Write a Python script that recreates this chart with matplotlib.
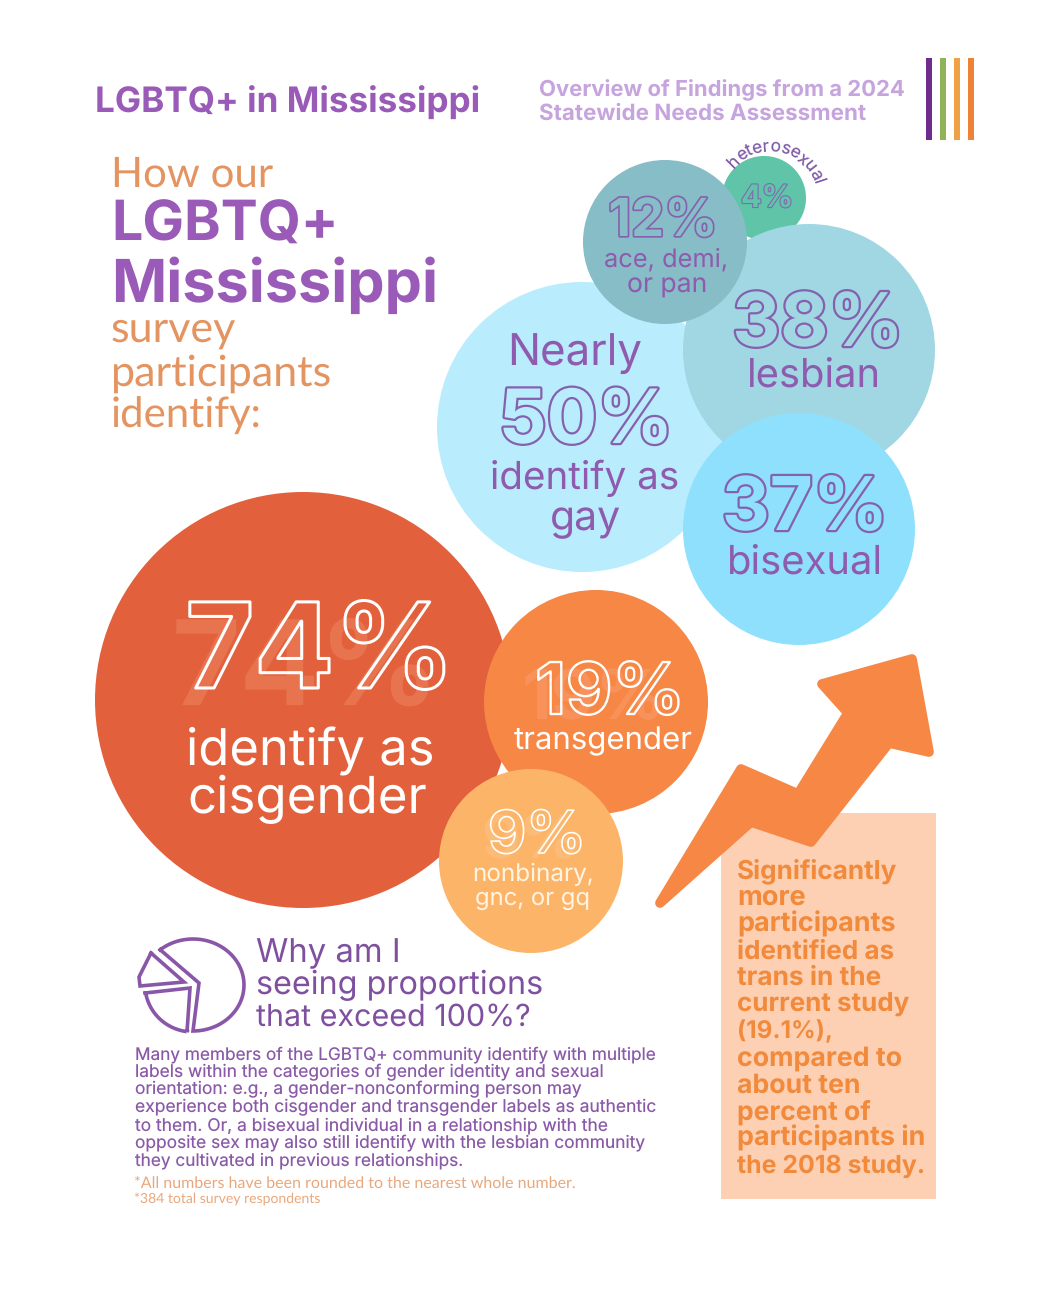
import numpy as np
import matplotlib

matplotlib.use("Agg")
import matplotlib.pyplot as plt
import matplotlib.patheffects as pe
from matplotlib.font_manager import FontProperties
from matplotlib.patches import Circle, Polygon, Rectangle
from matplotlib.textpath import TextPath

plt.rcParams["text.hinting"] = "no_hinting"
plt.rcParams["text.hinting_factor"] = 1

# values
orientation_values = [4, 12, 38, 50, 37]
orientation_labels = ["heterosexual", "ace, demi,\nor pan", "lesbian", "identify as\ngay", "bisexual"]
gender_values = [74, 19, 9]
gender_labels = ["identify as\ncisgender", "transgender", "nonbinary,\ngnc, or gq"]

title = "LGBTQ+ in Mississippi"
subtitle_lines = ["Overview of Findings from a 2024", "Statewide Needs Assessment"]
why_lines = ["Why am I", "seeing proportions", "that exceed 100%?"]
body_lines = [
    "Many members of the LGBTQ+ community identify with multiple",
    "labels within the categories of gender identity and sexual",
    "orientation: e.g., a gender-nonconforming person may",
    "experience both cisgender and transgender labels as authentic",
    "to them. Or, a bisexual individual in a relationship with the",
    "opposite sex may also still identify with the lesbian community",
    "they cultivated in previous relationships.",
]
box_lines = [
    "Significantly", "more", "participants", "identified as", "trans in the", "current study",
    "(19.1%),", "compared to", "about ten", "percent of", "participants in", "the 2018 study.",
]

W, H = 1056, 1294
DPI = 100
SANS = "Inter"
LIGHT = "Lato"
PURPLE = "#8F5BAE"
ORANGE = "#E49460"

fig = plt.figure(figsize=(W / DPI, H / DPI), dpi=DPI)
ax = fig.add_axes([0, 0, 1, 1])
ax.set_xlim(0, W)
ax.set_ylim(H, 0)
ax.axis("off")


def put(s, x, y, width, color, family=SANS, weight="normal", ha="center", effects=None, zorder=10):
    # font size is worked out so the ink of the string spans the wanted pixel width
    prop = FontProperties(family=family, weight=weight)
    box = TextPath((0, 0), s, size=100, prop=prop).get_extents()
    size = width * 100 / box.width * 72 / DPI
    return ax.text(x, y, s, fontsize=size, color=color, family=family, weight=weight, ha=ha, va="baseline",
                   path_effects=effects, zorder=zorder)


def outlined(s, x, y, width, fill, edge, lw=1.6):
    # stroke doubled since the fill drawn on top covers half of it
    effects = [pe.Stroke(linewidth=lw * 2, foreground=edge), pe.Normal()]
    put(s, x, y, width, fill, weight="bold", effects=effects)


def bubble(cx, cy, r, color, z=2):
    ax.add_patch(Circle((cx, cy), r, fc=color, ec="none", zorder=z))


# header
put(title, 95, 113, 381, "#9A5AB8", weight="bold", ha="left")
put(subtitle_lines[0], 539, 96, 364, "#C6A4DE", weight="bold", ha="left")
put(subtitle_lines[1], 539, 120, 326, "#C6A4DE", weight="bold", ha="left")
for x0, c in zip([926, 940, 954, 968], ["#6E2C8C", "#8FB356", "#F0A145", "#EE8236"]):
    ax.add_patch(Rectangle((x0, 58), 6, 82, fc=c, ec="none"))

put("How our", 111, 187, 158, ORANGE, family=LIGHT, ha="left")
put("LGBTQ+", 111, 241, 219, "#9A5AB8", weight="bold", ha="left")
put("Mississippi", 111, 302, 320, "#9A5AB8", weight="bold", ha="left")
put("survey", 111, 342, 123, ORANGE, family=LIGHT, ha="left")
put("participants", 111, 386, 216, ORANGE, family=LIGHT, ha="left")
put("identify:", 111, 428, 145, ORANGE, family=LIGHT, ha="left")

# orientation bubbles
bubble(764, 198, 42, "#5FC4A8", 2)
bubble(582, 427, 145, "#B9ECFD", 3)
bubble(809, 350, 126, "#A0D7E3", 4)
bubble(665, 242, 82, "#86BDC6", 5)
bubble(799, 529, 116, "#8FE0FC", 6)

outlined(f"{orientation_values[0]}%", 767, 207, 48, "#5FC4A8", "#7F6BB0", 0.8)
outlined(f"{orientation_values[1]}%", 663, 236, 102, "#86BDC6", "#8560AE", 1.2)
outlined(f"{orientation_values[2]}%", 818, 346, 161, "#A0D7E3", "#8560AE")
outlined(f"{orientation_values[3]}%", 586, 443, 163, "#B9ECFD", "#8560AE")
outlined(f"{orientation_values[4]}%", 805, 530, 156, "#8FE0FC", "#8560AE")

ace_1, ace_2 = orientation_labels[1].split("\n")
put(ace_1, 666, 267, 121, PURPLE)
put(ace_2, 667, 293, 77, PURPLE)
put(orientation_labels[2], 814, 388, 128, PURPLE)
put("Nearly", 575, 366, 130, PURPLE)
gay_1, gay_2 = orientation_labels[3].split("\n")
put(gay_1, 585, 489, 185, PURPLE)
put(gay_2, 586, 530, 68, PURPLE)
put(orientation_labels[4], 805, 574, 150, PURPLE)

# "heterosexual" bent over its bubble
ARC_SIZE = 12.5
arc_prop = FontProperties(family=SANS)
n_width = TextPath((0, 0), "nn", size=ARC_SIZE, prop=arc_prop).get_extents().width
advances = [TextPath((0, 0), "n" + ch + "n", size=ARC_SIZE, prop=arc_prop).get_extents().width - n_width
            for ch in orientation_labels[0]]
arc_total = sum(advances)
theta = np.deg2rad(141)
step = (np.deg2rad(141) - np.deg2rad(16)) / arc_total
for ch, adv in zip(orientation_labels[0], advances):
    mid = theta - step * adv / 2
    ax.text(770 + 46 * np.cos(mid), 198 - 46 * np.sin(mid), ch, fontsize=ARC_SIZE, family=SANS, color="#7E5BA6",
            rotation=np.rad2deg(mid) - 90, rotation_mode="anchor", ha="center", va="baseline", zorder=10)
    theta -= step * adv

# gender bubbles
bubble(303, 700, 208, "#E2603B", 2)
bubble(596, 702, 112, "#F68744", 3)
bubble(531, 861, 92, "#FCB568", 4)

put(f"{gender_values[0]}%", 306, 704, 253, "#E8734F", weight="bold", zorder=8)
put(f"{gender_values[1]}%", 594, 719, 135, "#F8925A", weight="bold", zorder=8)
put(f"{gender_values[2]}%", 530, 858, 90, "#FCBC78", weight="bold", zorder=8)
for val, x, y, w, lw in [(gender_values[0], 320, 688, 254, 2.2),
                         (gender_values[1], 610, 714, 140, 1.7),
                         (gender_values[2], 537, 853, 90, 1.2)]:
    # hollow digits so the ghost number behind shows through
    txt = put(f"{val}%", x, y, w, "none", weight="bold")
    txt.set_path_effects([pe.Stroke(linewidth=lw, foreground="white")])

cis_1, cis_2 = gender_labels[0].split("\n")
put(cis_1, 310, 765, 243, "white")
put(cis_2, 307, 813, 236, "white")
put(gender_labels[1], 603, 749, 178, "white")
nb_1, nb_2 = gender_labels[2].split("\n")
put(nb_1, 533, 881, 118, "#FFF3E2")
put(nb_2, 533, 905, 112, "#FFF3E2")

# callout box and arrow
ax.add_patch(Rectangle((721, 813), 215, 386, fc="#FDD0B4", ec="none", zorder=2))
arrow_pts = [(660, 903), (741, 769), (798, 794), (848, 713), (822, 684), (912, 659), (929, 752),
             (889, 743), (811, 842), (751, 822)]
ax.add_patch(Polygon(arrow_pts, closed=True, fc="#F68744", ec="#F68744", lw=7, joinstyle="round", zorder=3))

box_widths = [159, 66, 156, 155, 143, 171, 92, 163, 121, 132, 185, 186]
for i, (line, w) in enumerate(zip(box_lines, box_widths)):
    put(line, 737, 878 + i * 26.8, w, "#F28A3C", weight="bold", ha="left")

# pie icon
pc = "#8A57A8"
t = np.deg2rad(np.linspace(-130, 90, 60))
main_x = np.r_[193 + 51 * np.cos(t), 199]
main_y = np.r_[985 + 46 * np.sin(t), 983]
ax.plot(np.r_[main_x, main_x[0]], np.r_[main_y, main_y[0]], color=pc, lw=2.6, solid_joinstyle="miter")
ax.plot([151, 184, 140, 139, 151], [953, 982, 986, 977, 953], color=pc, lw=2.6, solid_joinstyle="miter")
t = np.deg2rad(np.linspace(97, 170, 25))
ax.plot(np.r_[145, 190, 187, 193 + 48 * np.cos(t)], np.r_[993, 988, 1032, 985 + 47 * np.sin(t)], color=pc, lw=2.6,
        solid_joinstyle="miter")

# explanation
for line, y, w in zip(why_lines, [962, 994, 1026], [141, 284, 273]):
    put(line, 256, y, w, "#8050A0", ha="left")
body_widths = [519, 466, 445, 520, 472, 509, 327]
for i, (line, w) in enumerate(zip(body_lines, body_widths)):
    put(line, 135, 1059 + i * 17.8, w, "#8A5AA8", ha="left")
put("*All numbers have been rounded to the nearest whole number.", 134, 1188, 436, "#E9A87C", family=LIGHT, ha="left")
put("*384 total survey respondents", 134, 1203, 185, "#E9A87C", family=LIGHT, ha="left")

fig.savefig("out.png", dpi=DPI, facecolor="white")
